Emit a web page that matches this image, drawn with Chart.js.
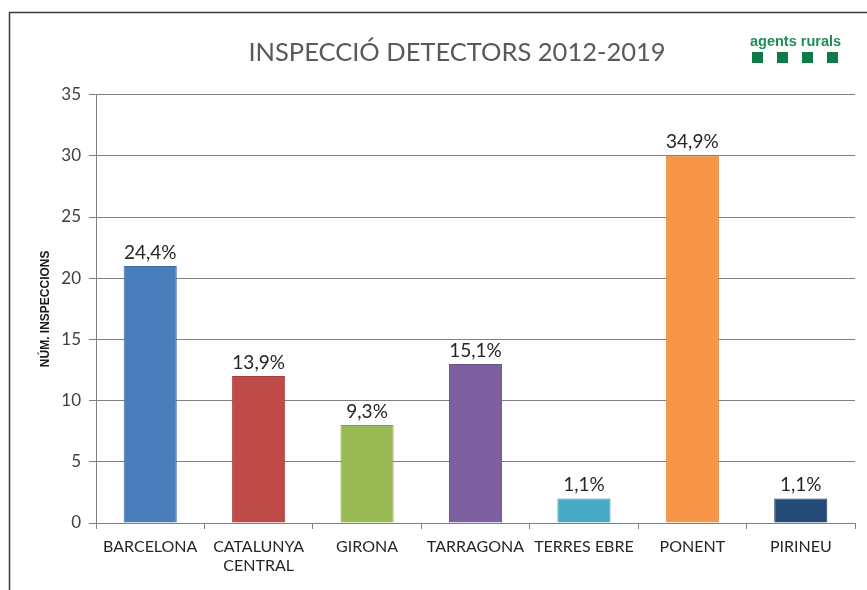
<!DOCTYPE html>
<html>
<head>
<meta charset="utf-8">
<script src="https://cdn.jsdelivr.net/npm/chart.js@4.4.0/dist/chart.umd.min.js"></script>
<style>
  html, body { margin: 0; padding: 0; background: #fff; }
  #wrap { width: 867px; height: 590px; }
</style>
</head>
<body>
<div id="wrap"><canvas id="chart"></canvas></div>
<script>
const categories = ['BARCELONA', ['CATALUNYA', 'CENTRAL'], 'GIRONA', 'TARRAGONA', 'TERRES EBRE', 'PONENT', 'PIRINEU'];
const inspections = [21, 12, 8, 13, 2, 30, 2];
const percentLabels = ['24,4%', '13,9%', '9,3%', '15,1%', '1,1%', '34,9%', '1,1%'];
const barColors = ['#4a7ebb', '#be4b48', '#98b954', '#7d60a0', '#46aac5', '#f79646', '#244a78'];
const barBorders = ['#3c6aa3', '#a53e3c', '#84a346', '#6a508a', '#3a93ac', '#e0843a', '#1a3a60'];

const FONT = 'Lato, "Open Sans", sans-serif';

// frame, value labels and logo
const overlay = {
  id: 'overlay',
  beforeDraw(chart) {
    const ctx = chart.ctx;
    ctx.save();
    ctx.strokeStyle = '#3a3a3a';
    ctx.lineWidth = 1.5;
    ctx.beginPath();
    ctx.moveTo(9.5, 590);
    ctx.lineTo(9.5, 12.5);
    ctx.lineTo(867, 12.5);
    ctx.stroke();
    ctx.restore();
  },
  afterDatasetsDraw(chart) {
    const ctx = chart.ctx;
    const meta = chart.getDatasetMeta(0);
    ctx.save();
    ctx.font = '19px ' + FONT;
    ctx.fillStyle = '#262626';
    ctx.textAlign = 'center';
    ctx.textBaseline = 'bottom';
    meta.data.forEach((bar, i) => {
      ctx.fillText(percentLabels[i], bar.x, bar.y - 4);
    });
    ctx.restore();
  },
  afterDraw(chart) {
    const ctx = chart.ctx;
    ctx.save();
    ctx.font = 'bold 14.5px "Liberation Sans", Arial, sans-serif';
    ctx.fillStyle = '#1e8f55';
    ctx.textAlign = 'left';
    ctx.textBaseline = 'alphabetic';
    ctx.fillText('agents rurals', 750, 46);
    ctx.fillStyle = '#0f7a48';
    [752, 777, 802, 827].forEach(x => ctx.fillRect(x, 52, 11, 11));
    ctx.restore();
  }
};

new Chart(document.getElementById('chart'), {
  type: 'bar',
  data: {
    labels: categories,
    datasets: [{
      data: inspections,
      backgroundColor: barColors,
      borderColor: barBorders,
      borderWidth: 1,
      barPercentage: 0.49,
      categoryPercentage: 1
    }]
  },
  options: {
    responsive: true,
    maintainAspectRatio: false,
    animation: false,
    layout: { padding: { left: 59, right: 12, top: 0, bottom: 0 } },
    plugins: {
      legend: { display: false },
      tooltip: { enabled: false },
      title: {
        display: true,
        text: 'INSPECCIÓ DETECTORS 2012-2019',
        color: '#595959',
        font: { family: FONT, size: 25.5, weight: 'normal' },
        padding: { top: 37, bottom: 27 }
      }
    },
    scales: {
      x: {
        grid: {
          display: true,
          offset: true,
          drawOnChartArea: false,
          tickLength: 6,
          color: '#808080'
        },
        border: { display: true, color: '#808080' },
        ticks: {
          color: '#262626',
          font: { family: FONT, size: 16 },
          padding: 8,
          maxRotation: 0,
          autoSkip: false
        },
        afterFit(scale) { scale.height = 67; }
      },
      y: {
        min: 0,
        max: 35,
        ticks: {
          stepSize: 5,
          color: '#404040',
          font: { family: FONT, size: 17 },
          padding: 8
        },
        grid: { color: '#808080', tickLength: 7 },
        border: { display: true, color: '#808080' },
        title: {
          display: true,
          text: 'NÚM. INSPECCIONS',
          color: '#1a1a1a',
          font: { family: '"Liberation Sans", Arial, sans-serif', size: 12, weight: 'bold' },
          padding: { top: -21, bottom: 0 }
        },
        afterFit(scale) { scale.width = 37; }
      }
    }
  },
  plugins: [overlay]
});
</script>
</body>
</html>
